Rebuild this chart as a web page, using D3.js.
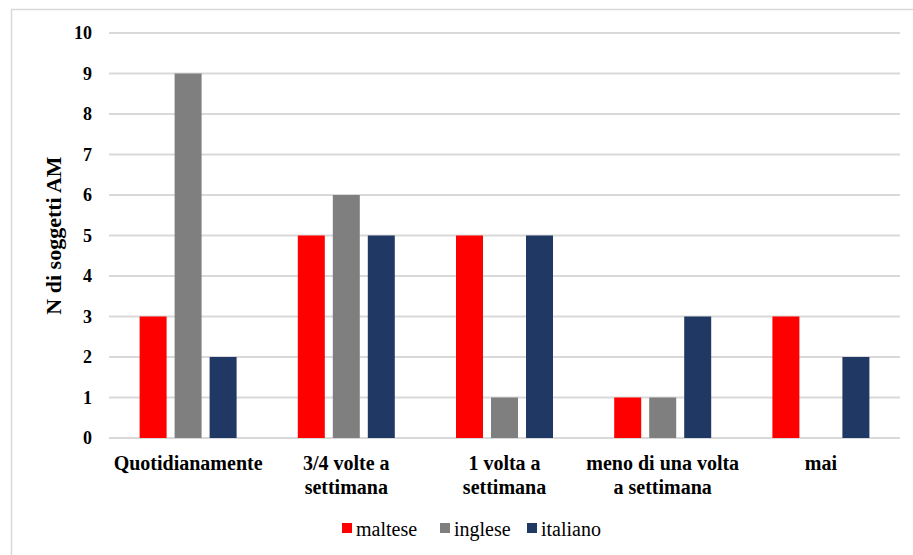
<!DOCTYPE html>
<html>
<head>
<meta charset="utf-8">
<script src="https://cdn.jsdelivr.net/npm/d3@7"></script>
</head>
<body style="margin:0">
<svg id="chart" width="913" height="555" font-family="Liberation Serif"></svg>
<script>
// Frequency categories (multi-line labels split on "\n")
const categories = ["Quotidianamente", "3/4 volte a\nsettimana", "1 volta a\nsettimana", "meno di una volta\na settimana", "mai"];
const seriesNames = ["maltese", "inglese", "italiano"];
const maltese  = [3, 5, 5, 1, 3];
const inglese  = [9, 6, 1, 1, 0];
const italiano = [2, 5, 5, 3, 2];
const yTicks = [0, 1, 2, 3, 4, 5, 6, 7, 8, 9, 10];
const colors = ["#ff0000", "#7f7f7f", "#203864"];
const yLabel = "N di soggetti AM";

const seriesValues = [maltese, inglese, italiano];
const rows = categories.map((c, i) => ({
  cat: c,
  vals: seriesNames.map((s, j) => ({ key: s, value: seriesValues[j][i] }))
}));

const svg = d3.select("#chart");
const fontName = "Liberation Serif";

// outer chart frame
svg.append("rect")
  .attr("x", 11.5).attr("y", 9.5)
  .attr("width", 920).attr("height", 560)
  .attr("fill", "none").attr("stroke", "#d9d9d9").attr("stroke-width", 1.5);

const plot = { left: 109, right: 900, top: 33, bottom: 438 };

const x0 = d3.scaleBand().domain(categories).range([plot.left, plot.right]);
const x1 = d3.scaleBand().domain(seriesNames).range([-48.5, 48.5]).paddingInner(8 / 35);
const y = d3.scaleLinear().domain([0, 10]).range([plot.bottom, plot.top]);
const color = d3.scaleOrdinal().domain(seriesNames).range(colors);

// horizontal gridlines
svg.append("g")
  .selectAll("line")
  .data(yTicks)
  .join("line")
  .attr("x1", plot.left).attr("x2", plot.right)
  .attr("y1", d => y(d)).attr("y2", d => y(d))
  .attr("stroke", "#d9d9d9").attr("stroke-width", 1.8);

// y axis tick labels
const yAxis = d3.axisLeft(y).tickValues(yTicks).tickSize(0).tickPadding(0);
svg.append("g")
  .attr("transform", `translate(${plot.left - 17},0)`)
  .call(yAxis)
  .call(g => g.select(".domain").remove())
  .attr("font-family", fontName)
  .attr("font-size", 18)
  .attr("font-weight", "bold")
  .selectAll("text")
  .attr("fill", "#000");

// bars
const groups = svg.append("g")
  .selectAll("g")
  .data(rows)
  .join("g")
  .attr("transform", d => `translate(${x0(d.cat) + x0.bandwidth() / 2},0)`);

groups.selectAll("rect")
  .data(d => d.vals.filter(v => v.value > 0))
  .join("rect")
  .attr("x", d => x1(d.key))
  .attr("width", x1.bandwidth())
  .attr("y", d => y(d.value))
  .attr("height", d => y(0) - y(d.value))
  .attr("fill", d => color(d.key));

// x axis category labels
const xAxis = d3.axisBottom(x0).tickSize(0).tickPadding(0);
const xg = svg.append("g")
  .attr("transform", `translate(0,${plot.bottom})`)
  .call(xAxis)
  .attr("font-family", fontName)
  .attr("font-size", 20)
  .attr("font-weight", "bold");
xg.select(".domain").remove();
xg.selectAll(".tick text").each(function(d) {
  const t = d3.select(this);
  t.text(null)
    .attr("y", 0)
    .attr("dy", null)
    .attr("fill", "#000");
  d.split("\n").forEach((line, i) => {
    t.append("tspan")
      .attr("x", 0)
      .attr("y", 32 + i * 23.5)
      .text(line);
  });
});

// y axis title
svg.append("text")
  .attr("transform", `translate(61,${(plot.top + plot.bottom) / 2}) rotate(-90)`)
  .attr("text-anchor", "middle")
  .attr("font-family", fontName)
  .attr("font-weight", "bold")
  .attr("font-size", 22)
  .text(yLabel);

// legend
const legendX = [342, 440, 527];
const legend = svg.append("g")
  .selectAll("g")
  .data(seriesNames)
  .join("g")
  .attr("transform", (d, i) => `translate(${legendX[i]},523)`);
legend.append("rect")
  .attr("width", 10).attr("height", 10)
  .attr("fill", d => color(d));
legend.append("text")
  .attr("x", 14).attr("y", 13)
  .attr("font-family", fontName)
  .attr("font-size", 20)
  .text(d => d);
</script>
</body>
</html>
